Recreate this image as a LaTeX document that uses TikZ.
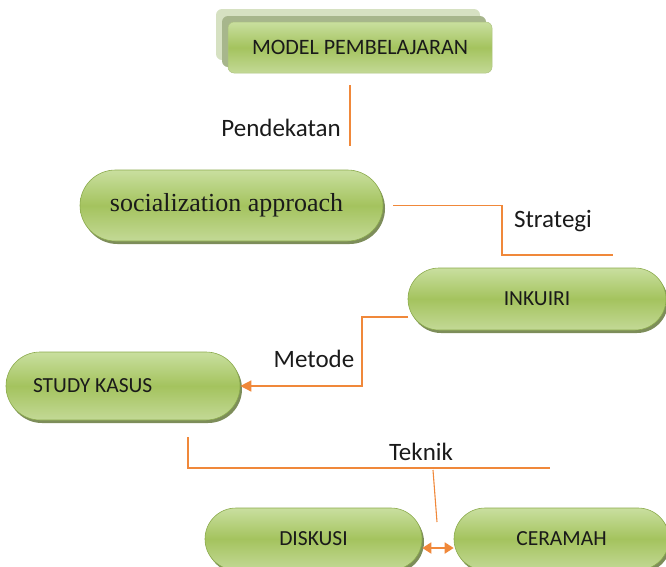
\documentclass[tikz,border=0pt]{standalone}
\usepackage{fontspec}
\setmainfont{Carlito}
\newfontfamily\serifcam{Liberation Serif}
\usetikzlibrary{shapes.misc,shadows,arrows.meta}
\definecolor{gtop}{HTML}{C9DF9F}
\definecolor{gmid}{HTML}{A4C35E}
\definecolor{gbot}{HTML}{C3D996}
\definecolor{gline}{HTML}{8BAA4C}
\definecolor{gshadow}{HTML}{6F8148}
\definecolor{backA}{HTML}{D6E1C2}
\definecolor{backB}{HTML}{A7B68C}
\definecolor{conn}{HTML}{F0883A}
\definecolor{txt}{HTML}{1A1A1A}
\tikzset{
  pill/.style={rounded rectangle, draw=gline, line width=0.6pt,
    top color=gtop, bottom color=gbot, middle color=gmid,
    drop shadow={shadow xshift=2pt, shadow yshift=-3pt, fill=gshadow, opacity=0.9},
    inner sep=0pt, text=txt, font=\fontsize{21.5}{25}\selectfont},
  modelbox/.style={rectangle, rounded corners=6pt, draw=gline!70, line width=0.5pt,
    top color=gtop, bottom color=gbot, middle color=gmid,
    general shadow={fill=backA, shadow xshift=-12pt, shadow yshift=13pt},
    general shadow={fill=backB, shadow xshift=-6pt, shadow yshift=6pt},
    inner sep=0pt, text=txt, minimum width=264pt, minimum height=51pt,
    font=\fontsize{22}{26}\selectfont},
  conn/.style={draw=conn, line width=1.4pt},
  lbl/.style={text=txt, inner sep=0pt, font=\fontsize{25}{30}\selectfont},
}
\begin{document}
\begin{tikzpicture}[x=1pt,y=-1pt]
\useasboundingbox (0,0) rectangle (666,566);
\node[modelbox] (model) at (360,47.5) {MODEL PEMBELAJARAN};
\node[pill, minimum width=303pt, minimum height=71pt, font=\serifcam\fontsize{26}{30}\selectfont] (soc) at (231.5,205.5) {\hspace*{-10pt}socialization approach};
\node[pill, minimum width=258pt, minimum height=62pt] (ink) at (537,299) {INKUIRI};
\node[pill, minimum width=234pt, minimum height=68pt] (sk) at (123,386) {\makebox[180pt][l]{STUDY KASUS}};
\node[pill, minimum width=217pt, minimum height=62pt] (disk) at (313.5,539) {DISKUSI};
\node[pill, minimum width=215pt, minimum height=62pt] (cer) at (561.5,539) {CERAMAH};
% Pendekatan
\coordinate (pA) at (350,85);
\coordinate (pB) at (350,146);
\draw[conn] (pA) -- (pB);
\node[lbl, anchor=east] (pend) at (341,128) {Pendekatan};
% Strategi
\coordinate (sEnd) at (613,255);
\draw[conn] ([xshift=10pt]soc.east) -| (502,255) -- (sEnd);
\node[lbl] (strat) at (553,221) {Strategi};
% Metode
\coordinate (mStart) at (408,317);
\draw[conn, -{Triangle[length=11pt,width=11pt]}] (mStart) -- (362,317) |- (sk.east);
\node[lbl] (met) at (314,359) {Metode};
% Teknik
\coordinate (tA) at (188,437);
\coordinate (tB) at (550,468);
\coordinate (tC) at (433,470);
\coordinate (tD) at (437,522);
\draw[conn, line width=1.1pt] (tA) |- (tB);
\draw[conn, line width=1.1pt] (tC) -- (tD);
\node[lbl] (tek) at (421,452) {Teknik};
% double arrow
\draw[conn, line width=1.8pt, {Triangle[length=9pt,width=11pt]}-{Triangle[length=9pt,width=11pt]}] ([yshift=-9pt]disk.east) -- ([yshift=-9pt]cer.west);
\end{tikzpicture}
\end{document}
